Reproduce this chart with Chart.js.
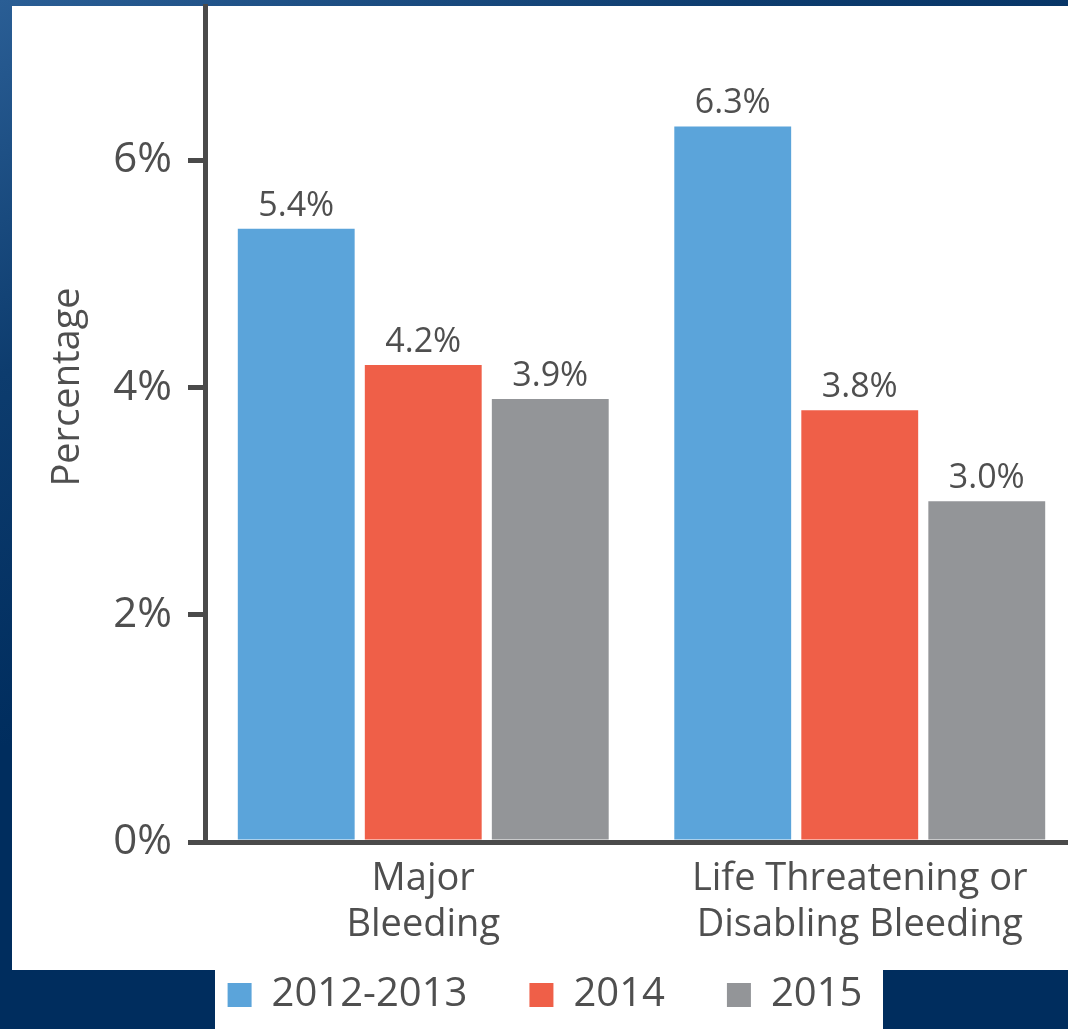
<!DOCTYPE html>
<html>
<head>
<meta charset="utf-8">
<title>Bleeding rates by period</title>
<script src="https://cdn.jsdelivr.net/npm/chart.js@4/dist/chart.umd.min.js"></script>
<style>
  html, body { margin: 0; padding: 0; background: #002d5e; overflow: hidden; }
  #wrap { width: 1068px; height: 1029px; overflow: hidden; }
  canvas { display: block; }
</style>
</head>
<body>
<div id="wrap"><canvas id="c" width="1078" height="1029"></canvas></div>
<script>
// Categories, series and labels
const categories = [['Major', 'Bleeding'], ['Life Threatening or', 'Disabling Bleeding']];
const seriesNames = ['2012-2013', '2014', '2015'];
const values2012_2013 = [5.4, 6.3];
const values2014 = [4.2, 3.8];
const values2015 = [3.9, 3.0];
const yTicks = [0, 2, 4, 6];
const yTitle = 'Percentage';

const colors = ['#5ba4da', '#ef5f48', '#939598'];
const textColor = '#4f4f4f';
const axisColor = '#4a4a4a';
const fontFamily = '"Open Sans", "Noto Sans", sans-serif';

// Navy page backdrop with the white panel and the legend strip
const backdrop = {
  id: 'backdrop',
  beforeDraw(chart) {
    const ctx = chart.ctx;
    ctx.save();
    const g = ctx.createLinearGradient(0, 0, 300, 600);
    g.addColorStop(0, '#2a5e95');
    g.addColorStop(0.5, '#0d3c6e');
    g.addColorStop(1, '#002d5e');
    ctx.fillStyle = g;
    ctx.fillRect(0, 0, chart.width, chart.height);
    ctx.fillStyle = '#ffffff';
    ctx.fillRect(12, 6, chart.width - 12, 964);
    ctx.fillRect(215, 970, 668, chart.height - 970);
    ctx.restore();
  }
};

// Value labels above bars, two-line category labels under the axis,
// and the rotated y-axis title
const annotations = {
  id: 'annotations',
  afterDatasetsDraw(chart) {
    const ctx = chart.ctx;
    ctx.save();
    ctx.fillStyle = textColor;
    ctx.font = '34px ' + fontFamily;
    ctx.textAlign = 'center';
    ctx.textBaseline = 'alphabetic';
    chart.data.datasets.forEach((ds, i) => {
      const meta = chart.getDatasetMeta(i);
      meta.data.forEach((bar, j) => {
        ctx.fillText(ds.data[j].toFixed(1) + '%', bar.x, bar.y - 13);
      });
    });

    const xScale = chart.scales.x;
    ctx.font = '38px ' + fontFamily;
    ctx.textBaseline = 'middle';
    chart.data.labels.forEach((lines, i) => {
      const x = xScale.getPixelForTick(i);
      lines.forEach((line, k) => {
        ctx.fillText(line, x, xScale.top + 37 + k * 46);
      });
    });

    ctx.translate(68, 387);
    ctx.rotate(-Math.PI / 2);
    ctx.font = '38px ' + fontFamily;
    ctx.fillText(yTitle, 0, 0);
    ctx.restore();
  }
};

const seriesValues = [values2012_2013, values2014, values2015];

new Chart(document.getElementById('c'), {
  type: 'bar',
  data: {
    labels: categories,
    datasets: seriesNames.map((name, i) => ({
      label: name,
      data: seriesValues[i],
      backgroundColor: colors[i],
      borderWidth: 0,
      categoryPercentage: 0.873,
      barPercentage: 0.92
    }))
  },
  options: {
    responsive: false,
    animation: false,
    layout: { padding: { left: 12, top: 6, right: 0, bottom: 4 } },
    plugins: {
      tooltip: { enabled: false },
      legend: {
        position: 'bottom',
        labels: {
          color: textColor,
          font: { family: fontFamily, size: 40 },
          boxWidth: 24,
          boxHeight: 24,
          padding: 62
        }
      }
    },
    scales: {
      x: {
        grid: { display: false, drawTicks: false },
        border: { display: true, color: axisColor, width: 5 },
        ticks: { display: false },
        afterFit(scale) { scale.height = 71; }
      },
      y: {
        min: 0,
        max: 7.36,
        grid: {
          drawOnChartArea: false,
          drawTicks: true,
          tickLength: 17,
          color: axisColor,
          lineWidth: 5
        },
        border: { display: true, color: axisColor, width: 5 },
        afterBuildTicks(scale) {
          scale.ticks = yTicks.map(v => ({ value: v }));
        },
        ticks: {
          color: textColor,
          font: { family: fontFamily, size: 42 },
          padding: 16,
          callback: v => v + '%'
        },
        afterFit(scale) {
          scale.width = 193;
          scale.paddingTop = 0;
          scale.paddingBottom = 0;
        }
      }
    }
  },
  plugins: [backdrop, annotations]
});
</script>
</body>
</html>
